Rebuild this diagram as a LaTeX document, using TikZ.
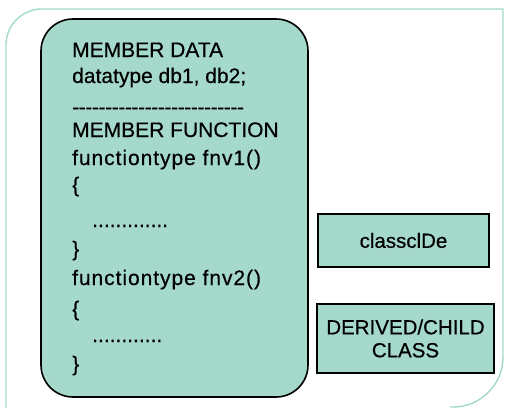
\documentclass[tikz,border=0pt]{standalone}
\usepackage{fontspec}
\setmainfont{Liberation Sans}[FakeBold=0.4]
\definecolor{panel}{HTML}{A5D9CB}
\definecolor{framecol}{HTML}{A3DACD}
\tikzset{
  codeline/.style={anchor=base west, inner sep=0pt, font=\fontsize{21}{24}\selectfont},
  classbox/.style={draw=black, line width=1.8pt, fill=panel, inner sep=0pt,
    align=center, font=\fontsize{20.5}{23}\selectfont},
}
% a row of separate hyphens (kerned so they never join into dashes)
\newcommand\hyrow[1]{\foreach \k in {1,...,#1}{-\kern-0.4pt}}
\begin{document}
\begin{tikzpicture}[x=1pt,y=-1pt]
\useasboundingbox (0,0) rectangle (508,407);
\fill[white] (0,0) rectangle (508,407);

% outer light frame
\draw[framecol, line width=1.4pt]
  (6,410) -- (6,45) arc[start angle=180, end angle=270, radius=36]
  -- (503,9) -- (503,357) arc[start angle=0, end angle=90, radius=50] -- (450,407);

% class body
\draw[black, line width=1.6pt, fill=panel, rounded corners=32pt]
  (41,19) rectangle (308,397);

\node[codeline] (md)  at (72,57)  {MEMBER DATA};
\node[codeline] (dt)  at (72,83)  {datatype db1, db2;};
\node[codeline] (sep) at (72,114) {\hyrow{26}};
\node[codeline] (mf)  at (72,137) {MEMBER FUNCTION};
\node[codeline] (f1)  at (72,165) {\addfontfeature{LetterSpace=4.5}functiontype fnv1()};
\node[codeline] (o1)  at (72,192) {\{};
\node[codeline] (d1)  at (92,227) {.............};
\node[codeline] (c1)  at (72,256) {\}};
\node[codeline] (f2)  at (72,285) {\addfontfeature{LetterSpace=4.5}functiontype fnv2()};
\node[codeline] (o2)  at (72,316) {\{};
\node[codeline] (d2)  at (92,342) {............};
\node[codeline] (c2)  at (72,371) {\}};

% side boxes
\node[classbox, minimum width=171pt, minimum height=53pt] (cc) at (403.5,240.5) {classclDe};
\node[classbox, minimum width=177pt, minimum height=69pt] (dc) at (405.5,338.5) {DERIVED/CHILD\\CLASS};
\end{tikzpicture}
\end{document}
